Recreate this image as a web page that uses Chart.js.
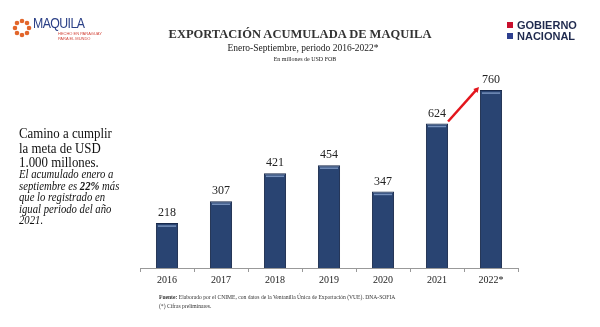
<!DOCTYPE html>
<html>
<head>
<meta charset="utf-8">
<script src="https://cdn.jsdelivr.net/npm/chart.js@4.4.1/dist/chart.umd.min.js"></script>
<style>
  html, body { margin: 0; padding: 0; background: #fff; }
  #wrap { position: relative; width: 600px; height: 327px; overflow: hidden; font-family: "Liberation Serif", "Times New Roman", serif; color: #222; }
  #chart { position: absolute; left: 0; top: 0; }
  .abs { position: absolute; white-space: nowrap; }
  #title { left: 0; width: 600px; top: 27px; text-align: center; font-weight: bold; font-size: 12.5px; color: #333; }
  #sub { left: 0; width: 606px; top: 43px; text-align: center; font-size: 9.5px; }
  #unit { left: 0; width: 610px; top: 56px; text-align: center; font-size: 6px; }
  #note { left: 19px; top: 126px; font-size: 15.5px; line-height: 14.6px; color: #111; transform: scaleX(0.83); transform-origin: left top; }
  #note2 { left: 19px; top: 169px; font-size: 11.5px; line-height: 11.6px; font-style: italic; color: #111; transform: scaleX(0.93); transform-origin: left top; }
  #src { left: 159px; top: 293px; font-size: 5.6px; line-height: 9px; color: #333; }
  #gob { left: 507px; top: 20px; font-family: "Liberation Sans", Arial, sans-serif; font-weight: bold; font-size: 11px; line-height: 10.5px; color: #1f2a4e; }
  #gob span.sq { display: inline-block; width: 6px; height: 6px; margin-right: 4px; vertical-align: 1px; }
  #maq { left: 33px; top: 14px; font-family: "Liberation Sans", Arial, sans-serif; font-size: 15px; letter-spacing: -0.7px; color: #2a3f86; transform: scaleX(0.82); transform-origin: left top; }
  #maqsub { left: 58px; top: 32px; font-family: "Liberation Sans", Arial, sans-serif; font-size: 4px; line-height: 4.5px; color: #d2453a; }
</style>
</head>
<body>
<div id="wrap">
  <canvas id="chart" width="600" height="327"></canvas>
  <svg class="abs" style="left:12px;top:18px" width="20" height="20" viewBox="0 0 20 20">
    <g fill="#e2662b">
      <circle cx="10" cy="3" r="2.3"/><circle cx="15" cy="5" r="2.3"/><circle cx="17" cy="10" r="2.3"/><circle cx="15" cy="15" r="2.3"/>
      <circle cx="10" cy="17" r="2.3"/><circle cx="5" cy="15" r="2.3"/><circle cx="3" cy="10" r="2.3"/><circle cx="5" cy="5" r="2.3"/>
    </g>
    <circle cx="10" cy="10" r="4.5" fill="#fff"/>
  </svg>
  <div class="abs" id="maq">MAQUILA</div>
  <div class="abs" id="maqsub">HECHO EN PARAGUAY<br>PARA EL MUNDO</div>
  <div class="abs" id="gob"><span class="sq" style="background:#c8102e"></span>GOBIERNO<br><span class="sq" style="background:#2e3f8f"></span>NACIONAL</div>
  <div class="abs" id="title">EXPORTACIÓN ACUMULADA DE MAQUILA</div>
  <div class="abs" id="sub">Enero-Septiembre, periodo 2016-2022*</div>
  <div class="abs" id="unit">En millones de USD FOB</div>
  <div class="abs" id="note">Camino a cumplir<br>la meta de USD<br>1.000 millones.</div>
  <div class="abs" id="note2">El acumulado enero a<br>septiembre es <b>22%</b> más<br>que lo registrado en<br>igual periodo del año<br>2021.</div>
  <div class="abs" id="src"><b>Fuente:</b> Elaborado por el CNIME, con datos de la Ventanilla Única de Exportación (VUE). DNA-SOFIA<br>(*) Cifras preliminares.</div>
</div>
<script>
// Data
var years = ['2016', '2017', '2018', '2019', '2020', '2021', '2022*'];
var exports = [218, 307, 421, 454, 347, 624, 760];

// value labels, bar highlight and the red growth arrow
var decorPlugin = {
    id: 'decor',
    afterDatasetsDraw: function (chart) {
        var ctx = chart.ctx;
        var bars = chart.getDatasetMeta(0).data;
        ctx.save();
        bars.forEach(function (bar, i) {
            var half = bar.width / 2;
            // light band near the top of each bar
            ctx.strokeStyle = '#7590bb';
            ctx.lineWidth = 1.5;
            ctx.beginPath();
            ctx.moveTo(bar.x - half + 2, bar.y + 3);
            ctx.lineTo(bar.x + half - 2, bar.y + 3);
            ctx.stroke();
            // value label
            ctx.fillStyle = '#222';
            ctx.font = '12px "Liberation Serif", serif';
            ctx.textAlign = 'center';
            ctx.textBaseline = 'bottom';
            ctx.fillText(exports[i], bar.x, bar.y - 4);
        });
        // arrow 2021 -> 2022
        var a = bars[5], b = bars[6];
        var x1 = a.x + a.width / 2, y1 = a.y - 2;
        var x2 = b.x - 12, y2 = b.y - 3;
        ctx.strokeStyle = '#e3161d';
        ctx.fillStyle = '#e3161d';
        ctx.lineWidth = 2.5;
        ctx.beginPath();
        ctx.moveTo(x1, y1);
        ctx.lineTo(x2 - 2, y2 + 2);
        ctx.stroke();
        var ang = Math.atan2(y2 - y1, x2 - x1);
        ctx.beginPath();
        ctx.moveTo(x2, y2);
        ctx.lineTo(x2 - 6 * Math.cos(ang - 0.5), y2 - 6 * Math.sin(ang - 0.5));
        ctx.lineTo(x2 - 6 * Math.cos(ang + 0.5), y2 - 6 * Math.sin(ang + 0.5));
        ctx.closePath();
        ctx.fill();
        ctx.restore();
    }
};

var ctx = document.getElementById('chart').getContext('2d');
var chart = new Chart(ctx, {
    type: 'bar',
    data: {
        labels: years,
        datasets: [{
            data: exports,
            backgroundColor: '#294472',
            borderColor: '#17284a',
            borderWidth: 1,
            barPercentage: 0.41,
            categoryPercentage: 1
        }]
    },
    options: {
        responsive: false,
        animation: false,
        layout: { padding: { left: 140, right: 82, top: 70, bottom: 39 } },
        plugins: { legend: { display: false }, tooltip: { enabled: false } },
        scales: {
            x: {
                border: { display: true, color: '#999', width: 1 },
                grid: { offset: true, drawOnChartArea: false, tickLength: 4, color: '#999' },
                ticks: { color: '#222', padding: 2, font: { family: '"Liberation Serif", serif', size: 10 } }
            },
            y: {
                display: false,
                min: 35,
                max: 842
            }
        }
    },
    plugins: [decorPlugin]
});
</script>
</body>
</html>
